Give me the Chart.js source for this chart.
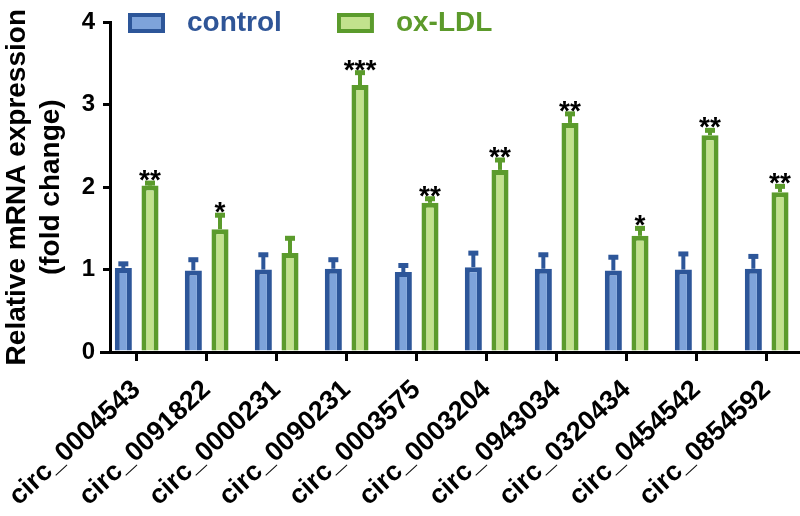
<!DOCTYPE html>
<html>
<head>
<meta charset="utf-8">
<script src="https://cdn.jsdelivr.net/npm/chart.js@4/dist/chart.umd.min.js"></script>
<style>
  html, body { margin: 0; padding: 0; background: #fff; }
  #wrap { width: 800px; height: 516px; }
</style>
</head>
<body>
<div id="wrap"><canvas id="expressionChart" width="800" height="516"></canvas></div>
<script>
// data
var labels = ['circ_0004543', 'circ_0091822', 'circ_0000231', 'circ_0090231', 'circ_0003575',
              'circ_0003204', 'circ_0943034', 'circ_0320434', 'circ_0454542', 'circ_0854592'];
var controlMean = [1.02, 0.99, 1.00, 1.01, 0.97, 1.03, 1.01, 0.99, 1.00, 1.01];
var controlSD   = [0.05, 0.13, 0.18, 0.11, 0.08, 0.17, 0.17, 0.16, 0.19, 0.15];
var oxldlMean   = [2.02, 1.49, 1.20, 3.24, 1.81, 2.21, 2.78, 1.41, 2.63, 1.94];
var oxldlSD     = [0.03, 0.17, 0.18, 0.15, 0.05, 0.12, 0.11, 0.09, 0.06, 0.07];
var significance = ['**', '*', '', '***', '**', '**', '**', '*', '**', '**'];
var yTicks = [0, 1, 2, 3, 4];

var FONT = "'Liberation Sans', Arial, sans-serif";
var blueDark = '#2d5699', blueLight = '#7ea3da';
var greenDark = '#5b9b2c', greenLight = '#c2e28d';
var legendText = ['#2f5597', '#5c9a2b'];

Chart.defaults.font.family = FONT;
Chart.defaults.font.weight = 'bold';
Chart.defaults.color = '#000';

// legend swatch: outlined box drawn into a small canvas
function swatch(fill, stroke) {
    var c = document.createElement('canvas');
    c.width = 45; c.height = 20;
    var g = c.getContext('2d');
    g.fillStyle = fill;
    g.fillRect(2, 2, 33, 16);
    g.lineWidth = 4;
    g.strokeStyle = stroke;
    g.strokeRect(2, 2, 33, 16);
    return c;
}

// error bars (upper only) and significance marks
var errorBars = {
    id: 'errorBars',
    afterDatasetsDraw: function(chart) {
        var ctx = chart.ctx, y = chart.scales.y;
        var means = [controlMean, oxldlMean], sds = [controlSD, oxldlSD];
        chart.data.datasets.forEach(function(ds, di) {
            chart.getDatasetMeta(di).data.forEach(function(bar, i) {
                var top = y.getPixelForValue(means[di][i] + sds[di][i]);
                ctx.save();
                ctx.strokeStyle = ds.borderColor;
                ctx.lineWidth = 4;
                ctx.beginPath();
                ctx.moveTo(bar.x, bar.y);
                ctx.lineTo(bar.x, top);
                ctx.stroke();
                ctx.lineWidth = 5;
                ctx.beginPath();
                ctx.moveTo(bar.x - 5, top);
                ctx.lineTo(bar.x + 5, top);
                ctx.stroke();
                if (di === 1 && significance[i]) {
                    ctx.fillStyle = '#000';
                    ctx.font = 'bold 28px ' + FONT;
                    ctx.textAlign = 'center';
                    ctx.textBaseline = 'alphabetic';
                    ctx.fillText(significance[i], bar.x, top + 6);
                }
                ctx.restore();
            });
        });
    }
};

// the x axis line of the figure starts a little left of the y axis
var axisStub = {
    id: 'axisStub',
    afterDraw: function(chart) {
        var a = chart.chartArea, ctx = chart.ctx;
        ctx.save();
        ctx.strokeStyle = '#000';
        ctx.lineWidth = 3;
        ctx.beginPath();
        ctx.moveTo(a.left - 10, a.bottom + 0.5);
        ctx.lineTo(a.left, a.bottom + 0.5);
        ctx.stroke();
        ctx.restore();
    }
};

// put the legend where the figure has it (top left, over the plot)
var legendPlace = {
    id: 'legendPlace',
    afterLayout: function(chart) {
        var l = chart.legend;
        var p = l.options.labels.padding;
        l.left = 128 - p;
        l.right = 800;
        l.top = 9 - p;
        l.bottom = l.top + 2 * p + 40;
    }
};

var chart = new Chart(document.getElementById('expressionChart'), {
    type: 'bar',
    data: {
        datasets: [{
            label: 'control',
            data: controlMean.map(function(v, i) { return {x: i, y: v}; }),
            backgroundColor: blueLight,
            borderColor: blueDark,
            borderWidth: 5,
            borderSkipped: 'start'
        }, {
            label: 'ox-LDL',
            data: oxldlMean.map(function(v, i) { return {x: i, y: v}; }),
            backgroundColor: greenLight,
            borderColor: greenDark,
            borderWidth: 5,
            borderSkipped: 'start'
        }]
    },
    options: {
        responsive: false,
        animation: false,
        categoryPercentage: 0.762,
        barPercentage: 0.64,
        layout: { padding: { top: 20, right: 0, left: 0, bottom: 0 } },
        plugins: {
            tooltip: { enabled: false },
            legend: {
                position: 'top',
                align: 'start',
                maxHeight: 1,
                labels: {
                    usePointStyle: true,
                    pointStyleWidth: 45,
                    boxHeight: 20,
                    padding: 55,
                    font: { size: 28, weight: 'bold' },
                    generateLabels: function(chart) {
                        return chart.data.datasets.map(function(ds, i) {
                            return {
                                text: ds.label,
                                pointStyle: swatch(ds.backgroundColor, ds.borderColor),
                                fontColor: legendText[i],
                                lineWidth: 0,
                                hidden: false,
                                datasetIndex: i
                            };
                        });
                    }
                }
            }
        },
        scales: {
            x: {
                type: 'linear',
                offset: false,
                min: -0.381,
                max: 9.476,
                afterBuildTicks: function(scale) {
                    scale.ticks = labels.map(function(_, i) { return {value: i}; });
                },
                afterFit: function(scale) {
                    scale.height = 164;
                    scale.paddingLeft = 0;
                    scale.paddingRight = 0;
                },
                grid: { offset: false, drawOnChartArea: false, tickLength: 9, lineWidth: 3, color: '#000' },
                border: { width: 3, color: '#000' },
                ticks: {
                    autoSkip: false,
                    maxRotation: 43,
                    minRotation: 43,
                    padding: 13,
                    font: { size: 27, weight: 'bold' },
                    color: '#000',
                    callback: function(v) { return labels[v]; }
                }
            },
            y: {
                min: 0,
                max: 4,
                afterBuildTicks: function(scale) {
                    scale.ticks = yTicks.map(function(v) { return {value: v}; });
                },
                afterFit: function(scale) { scale.width = 110; },
                grid: { drawOnChartArea: false, tickLength: 7, lineWidth: 3, color: '#000' },
                border: { width: 3, color: '#000' },
                ticks: { padding: 8, font: { size: 24, weight: 'bold' }, color: '#000' },
                title: {
                    display: true,
                    text: ['Relative mRNA expression', '(fold change)'],
                    font: { size: 28, weight: 'bold', lineHeight: 1.22 },
                    padding: { top: 0, bottom: 0 },
                    color: '#000'
                }
            }
        }
    },
    plugins: [errorBars, legendPlace, axisStub]
});
</script>
</body>
</html>
